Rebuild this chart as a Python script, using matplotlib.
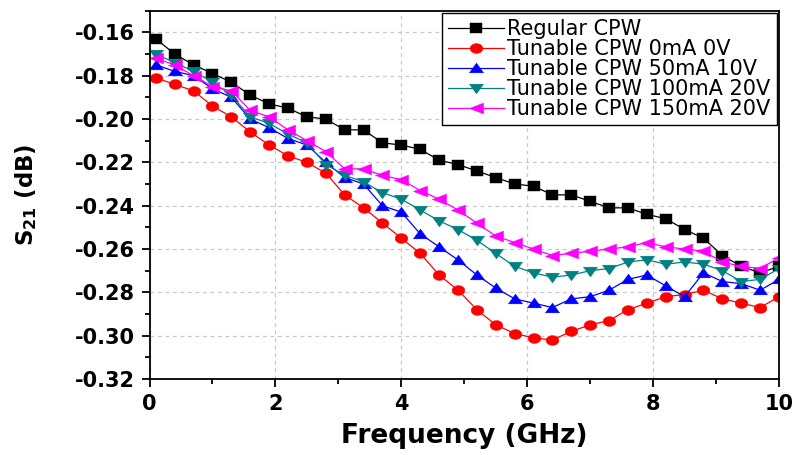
import numpy as np
import matplotlib
matplotlib.use("Agg")
import matplotlib.pyplot as plt
from matplotlib.ticker import MultipleLocator, FormatStrFormatter

# Frequency sweep (GHz) and insertion loss S21 (dB) per configuration
freq_ghz = [0.1, 0.4, 0.7, 1.0, 1.3, 1.6, 1.9, 2.2, 2.5, 2.8, 3.1, 3.4,
            3.7, 4.0, 4.3, 4.6, 4.9, 5.2, 5.5, 5.8, 6.1, 6.4, 6.7, 7.0,
            7.3, 7.6, 7.9, 8.2, 8.5, 8.8, 9.1, 9.4, 9.7, 10.0]

s21_regular = [-0.163, -0.170, -0.175, -0.179, -0.183, -0.189, -0.193, -0.195,
               -0.199, -0.200, -0.205, -0.205, -0.211, -0.212, -0.214, -0.219,
               -0.221, -0.224, -0.227, -0.230, -0.231, -0.235, -0.235, -0.238,
               -0.241, -0.241, -0.244, -0.246, -0.251, -0.255, -0.263, -0.268,
               -0.271, -0.268]

s21_0ma_0v = [-0.181, -0.184, -0.187, -0.194, -0.199, -0.206, -0.212, -0.217,
              -0.220, -0.225, -0.235, -0.241, -0.248, -0.255, -0.262, -0.272,
              -0.279, -0.288, -0.295, -0.299, -0.301, -0.302, -0.298, -0.295,
              -0.293, -0.288, -0.285, -0.282, -0.281, -0.279, -0.283, -0.285,
              -0.287, -0.282]

s21_50ma_10v = [-0.175, -0.178, -0.180, -0.186, -0.190, -0.200, -0.204, -0.209,
                -0.212, -0.220, -0.227, -0.230, -0.240, -0.243, -0.253, -0.259,
                -0.265, -0.272, -0.278, -0.283, -0.285, -0.287, -0.283, -0.282,
                -0.279, -0.274, -0.272, -0.277, -0.282, -0.271, -0.275, -0.276,
                -0.279, -0.274]

s21_100ma_20v = [-0.170, -0.174, -0.178, -0.183, -0.189, -0.199, -0.202, -0.207,
                 -0.211, -0.221, -0.226, -0.229, -0.234, -0.237, -0.242, -0.247,
                 -0.251, -0.256, -0.262, -0.268, -0.271, -0.273, -0.272, -0.270,
                 -0.269, -0.266, -0.265, -0.267, -0.266, -0.267, -0.270, -0.275,
                 -0.274, -0.269]

s21_150ma_20v = [-0.172, -0.175, -0.180, -0.185, -0.187, -0.196, -0.199, -0.205,
                 -0.210, -0.215, -0.223, -0.223, -0.226, -0.228, -0.233, -0.237,
                 -0.242, -0.248, -0.254, -0.257, -0.260, -0.263, -0.262, -0.261,
                 -0.260, -0.259, -0.257, -0.259, -0.260, -0.261, -0.266, -0.268,
                 -0.269, -0.264]

series_labels = ["Regular CPW", "Tunable CPW 0mA 0V", "Tunable CPW 50mA 10V",
                 "Tunable CPW 100mA 20V", "Tunable CPW 150mA 20V"]

x_ticks = [0, 2, 4, 6, 8, 10]
y_ticks = [-0.32, -0.30, -0.28, -0.26, -0.24, -0.22, -0.20, -0.18, -0.16]

# Slightly wide marker shapes (width:height = 1.3:1)
W = 1.3
sq = [(-W, -1), (W, -1), (W, 1), (-W, 1), (-W, -1)]
t = np.linspace(0, 2 * np.pi, 41)
ell = list(zip(W * np.cos(t), np.sin(t)))
tri_up = [(-W, -0.8), (W, -0.8), (0, 1.0), (-W, -0.8)]
tri_dn = [(-W, 0.8), (W, 0.8), (0, -1.0), (-W, 0.8)]
tri_lt = [(-W, 0), (W, -1.0), (W, 1.0), (-W, 0)]

styles = [
    dict(color="black", marker=sq, ms=9.0),
    dict(color="#ff0000", marker=ell, ms=9.2),
    dict(color="#0000ff", marker=tri_up, ms=10.2),
    dict(color="#008080", marker=tri_dn, ms=10.2),
    dict(color="#ff00ff", marker=tri_lt, ms=10.2),
]

fig = plt.figure(figsize=(8.0, 4.55), dpi=100)
ax = fig.add_axes([0.1869, 0.167, 0.7869, 0.8095])

all_series = [s21_regular, s21_0ma_0v, s21_50ma_10v, s21_100ma_20v, s21_150ma_20v]
for vals, lab, st in zip(all_series, series_labels, styles):
    ax.plot(freq_ghz, vals, color=st["color"], lw=0.9, marker=st["marker"],
            ms=st["ms"], mfc=st["color"], mec=st["color"], mew=0.3, label=lab)

ax.set_xlim(0, 10)
ax.set_ylim(-0.32, -0.15)
ax.set_xticks(x_ticks)
ax.set_yticks(y_ticks)
ax.xaxis.set_minor_locator(MultipleLocator(1))
ax.yaxis.set_minor_locator(MultipleLocator(0.01))
ax.yaxis.set_major_formatter(FormatStrFormatter("%.2f"))

ax.grid(True, which="major", color="#c8c8c8", linestyle=(0, (3, 3)), lw=0.9)
ax.set_axisbelow(True)

for sp in ax.spines.values():
    sp.set_linewidth(1.3)
    sp.set_color("black")

ax.tick_params(which="both", direction="out", top=False, right=False, width=1.3,
               colors="black")
ax.tick_params(which="major", length=5.5, pad=5)
ax.tick_params(which="minor", length=3.5)
for lbl in ax.get_xticklabels() + ax.get_yticklabels():
    lbl.set_fontfamily("DejaVu Sans")
    lbl.set_fontweight("bold")
    lbl.set_fontsize(15)

ax.set_xlabel("Frequency (GHz)", fontsize=19, fontweight="bold",
              family="DejaVu Sans", labelpad=7)
ax.set_ylabel(r"S$_\mathbf{21}$ (dB)", fontsize=16.5, fontweight="bold",
              family="DejaVu Sans")
ax.yaxis.set_label_coords(-0.175, 0.5)

leg = ax.legend(loc="upper right", frameon=True, fancybox=False,
                shadow=False, framealpha=1, edgecolor="black",
                handlelength=2.7, handletextpad=0.15, labelspacing=0.0,
                borderpad=0.3, borderaxespad=0.1,
                prop={"family": "DejaVu Sans", "size": 15})
leg.get_frame().set_linewidth(1.0)

fig.savefig("out.png", dpi=100)
